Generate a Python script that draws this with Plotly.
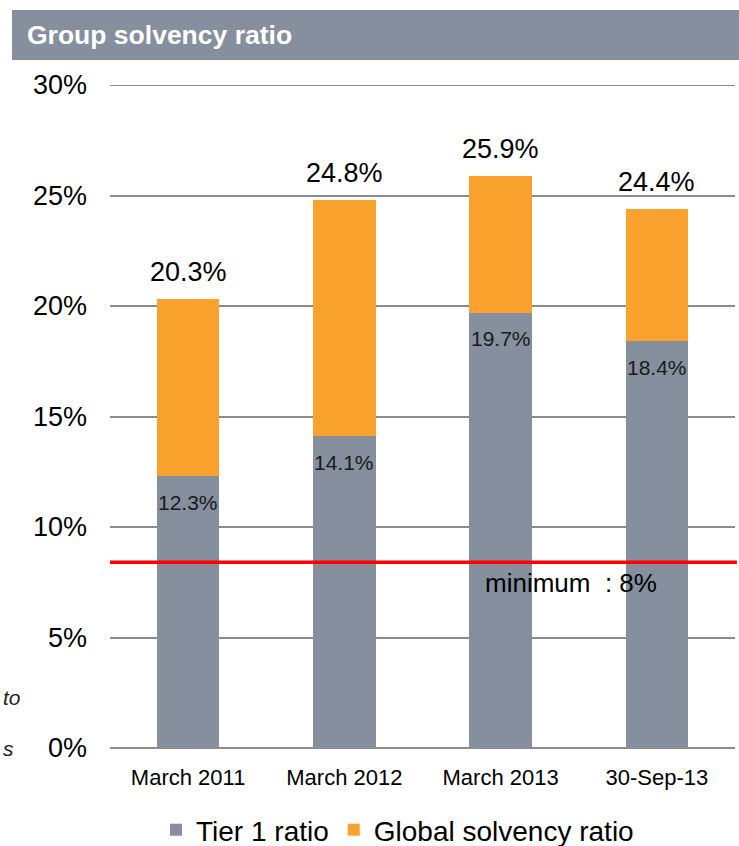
import plotly.graph_objects as go

categories = ["March 2011", "March 2012", "March 2013", "30-Sep-13"]
tier1 = [12.3, 14.1, 19.7, 18.4]
global_total = [20.3, 24.8, 25.9, 24.4]
minimum_line = 8.4
y_ticks = [0, 5, 10, 15, 20, 25, 30]
y_tick_labels = ["0%", "5%", "10%", "15%", "20%", "25%", "30%"]

GRAY = "#858F9E"
ORANGE = "#FAA22E"
GRID = "#8C8C8C"
FONT = "Arial, Liberation Sans, sans-serif"

upper = [round(t - b, 1) for t, b in zip(global_total, tier1)]

fig = go.Figure()
fig.add_trace(go.Bar(x=categories, y=tier1, name="Tier 1 ratio",
                     marker=dict(color=GRAY, line=dict(width=0)), width=0.4,
                     hoverinfo="skip"))
fig.add_trace(go.Bar(x=categories, y=upper, name="Global solvency ratio",
                     marker=dict(color=ORANGE, line=dict(width=0)), width=0.4,
                     hoverinfo="skip"))

annotations = []
for c, t1, tot in zip(categories, tier1, global_total):
    annotations.append(dict(x=c, y=t1, xref="x", yref="y", text=f"{t1:.1f}%",
                            showarrow=False, yanchor="middle", yshift=-26,
                            font=dict(family=FONT, size=21, color="#1a1a1a")))
    annotations.append(dict(x=c, y=tot, xref="x", yref="y", text=f"{tot:.1f}%",
                            showarrow=False, yanchor="middle", yshift=27,
                            font=dict(family=FONT, size=27, color="black")))

annotations.append(dict(x=0.7376, y=minimum_line, xref="paper", yref="y",
                        text="minimum  : 8%", showarrow=False, xanchor="center",
                        yanchor="middle", yshift=-21,
                        font=dict(family=FONT, size=26, color="black")))
annotations.append(dict(x=-0.1364, y=1.0754, xref="paper", yref="paper",
                        text="<b>Group solvency ratio</b>", showarrow=False,
                        xanchor="left", yanchor="middle",
                        font=dict(family=FONT, size=26.5, color="white")))
annotations.append(dict(x=-0.1744, y=(748 - 697) / 663, xref="paper", yref="paper",
                        text="<i>to</i>", showarrow=False, xanchor="left",
                        yanchor="middle", font=dict(family=FONT, size=21, color="#222")))
annotations.append(dict(x=-0.1744, y=0.0, xref="paper", yref="paper",
                        text="<i>s</i>", showarrow=False, xanchor="left",
                        yanchor="middle", font=dict(family=FONT, size=21, color="#222")))

shapes = [
    dict(type="rect", xref="paper", yref="paper", x0=-0.1568, x1=1.02,
         y0=1.0377, y1=1.1131, fillcolor=GRAY, line=dict(width=0), layer="below"),
    dict(type="line", xref="paper", yref="y", x0=0, x1=1, y0=30, y1=30,
         line=dict(color=GRID, width=2), layer="below"),
    dict(type="line", xref="paper", yref="y", x0=0, x1=1.003,
         y0=minimum_line, y1=minimum_line, line=dict(color="#FF0000", width=3.5)),
]

fig.update_layout(
    width=739, height=846,
    margin=dict(l=110, r=4, t=85, b=98),
    paper_bgcolor="white", plot_bgcolor="white",
    barmode="stack", bargap=0.6,
    showlegend=True,
    legend=dict(orientation="h", x=0.46, xanchor="center",
                yref="container", y=(846 - 830) / 846, yanchor="middle",
                font=dict(family=FONT, size=28, color="black"),
                itemsizing="constant", traceorder="normal"),
    xaxis=dict(showgrid=False, showline=False, ticks="", ticklabelstandoff=14,
               automargin=False,
               tickfont=dict(family=FONT, size=22, color="black")),
    yaxis=dict(range=[0, 30], tickvals=y_ticks, ticktext=y_tick_labels,
               showgrid=True, gridcolor=GRID, gridwidth=2,
               zeroline=True, zerolinecolor=GRID, zerolinewidth=2,
               showline=False, ticks="", ticklabelstandoff=22, automargin=False,
               tickfont=dict(family=FONT, size=27, color="black")),
    annotations=annotations,
    shapes=shapes,
    font=dict(family=FONT),
)

fig.write_html("out.html", config={"displayModeBar": False},
               post_script="document.body.style.margin='0px';"
                           "document.documentElement.style.overflow='hidden';")
